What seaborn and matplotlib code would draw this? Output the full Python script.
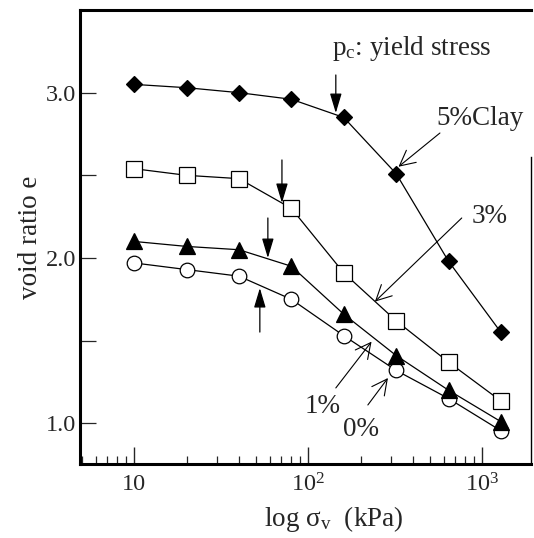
import matplotlib
matplotlib.use("Agg")
import matplotlib.pyplot as plt
import pandas as pd
import seaborn as sns
from matplotlib.ticker import FixedLocator, FuncFormatter, LogLocator, NullFormatter

# Consolidation data: vertical stress (kPa) and void ratio for each clay content
stress_kpa = [10, 20, 40, 80, 160, 320, 640, 1280]
e_clay5 = [3.05, 3.03, 3.00, 2.96, 2.85, 2.51, 1.98, 1.55]
e_clay3 = [2.54, 2.50, 2.48, 2.30, 1.91, 1.62, 1.37, 1.135]
e_clay1 = [2.10, 2.07, 2.05, 1.95, 1.66, 1.41, 1.20, 1.01]
e_clay0 = [1.97, 1.93, 1.89, 1.75, 1.53, 1.32, 1.15, 0.955]

y_ticks = [1.0, 1.5, 2.0, 2.5, 3.0]
y_tick_labels = ["1.0", "", "2.0", "", "3.0"]
x_ticks = [10, 100, 1000]
x_tick_labels = ["10", "$10^2$", "$10^3$"]

sns.set_style("ticks", {"xtick.direction": "in", "ytick.direction": "in"})
plt.rcParams["font.family"] = ["Liberation Serif", "DejaVu Serif"]
plt.rcParams["mathtext.fontset"] = "custom"
plt.rcParams["mathtext.rm"] = "Liberation Serif"
plt.rcParams["mathtext.it"] = "Liberation Serif:italic"
plt.rcParams["xtick.direction"] = "in"
plt.rcParams["ytick.direction"] = "in"

fig = plt.figure(figsize=(5.34, 5.38), dpi=100)
ax = fig.add_axes([80 / 534, 1 - 464 / 538, 451 / 534, 454 / 538])

series = [
    (e_clay0, "o", "white", 10.5),
    (e_clay1, "^", "black", 11),
    (e_clay3, "s", "white", 11),
    (e_clay5, "D", "black", 8.2),
]
for z, (vals, mk, face, ms) in enumerate(series):
    df = pd.DataFrame({"stress": stress_kpa, "e": vals})
    sns.lineplot(data=df, x="stress", y="e", ax=ax, color="black", lw=0.9,
                 marker=mk, markersize=ms, markerfacecolor=face,
                 markeredgecolor="black", markeredgewidth=0.9, zorder=3 + z)

ax.set_xscale("log")
ax.set_xlim(4.88, 1905)
ax.set_ylim(0.754, 3.5)

ax.xaxis.set_major_locator(FixedLocator(x_ticks))
ax.xaxis.set_major_formatter(FuncFormatter(
    lambda v, p: x_tick_labels[x_ticks.index(round(v))] if round(v) in x_ticks else ""))
ax.xaxis.set_minor_locator(LogLocator(base=10, subs=range(2, 10)))
ax.xaxis.set_minor_formatter(NullFormatter())
ax.yaxis.set_major_locator(FixedLocator(y_ticks))
ax.set_yticklabels(y_tick_labels)

ax.tick_params(axis="x", which="major", direction="in", length=12, width=1.0,
               labelsize=17.5, pad=7, bottom=True, top=False)
ax.tick_params(axis="x", which="minor", direction="in", length=6, width=0.9,
               bottom=True, top=False)
ax.tick_params(axis="y", which="major", direction="in", length=11.5, width=0.9,
               labelsize=17.5, pad=3, left=True, right=False)
ax.tick_params(axis="y", which="minor", left=False, right=False)

for side in ["left", "bottom", "top"]:
    ax.spines[side].set_visible(True)
    ax.spines[side].set_linewidth(2.2)
    ax.spines[side].set_color("black")
ax.spines["right"].set_visible(True)
ax.spines["right"].set_linewidth(1.0)
ax.spines["right"].set_color("black")
ax.spines["right"].set_bounds(0.754, 2.61)

ax.set_xlabel("log σ$_\\mathrm{v}$  (kPa)", fontsize=19.5)
ax.xaxis.set_label_coords(0.563, -0.088)
ax.set_ylabel("void ratio e", fontsize=19.5)
ax.yaxis.set_label_coords(-0.082, 0.5)

# yield-stress markers (filled heads)
filled = dict(arrowstyle="-|>,head_length=0.6,head_width=0.18", color="black",
              lw=0.9, mutation_scale=20, shrinkA=0, shrinkB=0)
for x0, y0, y1 in [(144, 3.107, 2.877), (70.6, 2.593, 2.333),
                   (58.6, 2.242, 2.0), (52.7, 1.552, 1.818)]:
    ax.annotate("", xy=(x0, y1), xytext=(x0, y0), arrowprops=filled)

# curve labels (open heads)
opened = dict(arrowstyle="->,head_length=0.55,head_width=0.28", color="black",
              lw=0.8, mutation_scale=20, shrinkA=0, shrinkB=0)
for (xa, ya), (xb, yb) in [((571, 2.756), (330, 2.552)),
                           ((762, 2.242), (241.5, 1.736)),
                           ((144, 1.214), (231, 1.494)),
                           ((220, 1.111), (287, 1.274))]:
    ax.annotate("", xy=(xb, yb), xytext=(xa, ya), arrowprops=opened)

ax.text((332 - 80) / 451, (464 - 55) / 454, "p$_\\mathrm{c}$: yield stress",
        transform=ax.transAxes, fontsize=19.5, ha="left", va="baseline")
ax.text(0.887, 0.762, "5%Clay", transform=ax.transAxes, fontsize=19.5, ha="center", va="center")
ax.text(0.909, 0.546, "3%", transform=ax.transAxes, fontsize=19.5, ha="center", va="center")
ax.text(0.539, 0.127, "1%", transform=ax.transAxes, fontsize=19.5, ha="center", va="center")
ax.text(0.623, 0.075, "0%", transform=ax.transAxes, fontsize=19.5, ha="center", va="center")

fig.savefig("out.png", dpi=100)
